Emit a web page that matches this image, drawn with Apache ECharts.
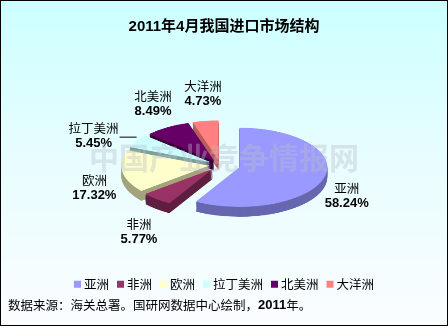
<!DOCTYPE html>
<html>
<head>
<meta charset="utf-8">
<script src="https://cdn.jsdelivr.net/npm/echarts@6/dist/echarts.min.js"></script>
<style>
html,body{margin:0;padding:0;background:#fff;}
#wrap{position:relative;width:448px;height:326px;overflow:hidden;background:linear-gradient(#ccffff 0%,#e6fdff 45%,#fbfdff 100%);}
#pie,#main{position:absolute;left:0;top:0;width:448px;height:326px;}
#pie{transform-origin:0 165px;transform:scaleY(0.45);}
#frame{position:absolute;left:0;top:0;width:448px;height:326px;box-sizing:border-box;border:1px solid #000;pointer-events:none;}
</style>
</head>
<body>
<div id="wrap"><div id="pie"></div><div id="main"></div><div id="frame"></div></div>
<script>
// ---- data ----
const categories = ['亚洲', '非洲', '欧洲', '拉丁美洲', '北美洲', '大洋洲'];
const shares = [58.24, 5.77, 17.32, 5.45, 8.49, 4.73];
const titleText = '2011年4月我国进口市场结构';
const sourceText = '数据来源：海关总署。国研网数据中心绘制，{b|2011}年。';
const watermarkText = '中国产业竞争情报网';

// ---- style ----
const topColors = ['#9999ff', '#993366', '#ffffcc', '#ccffff', '#660066', '#ff8080'];
const sideColors = ['#6767b0', '#5e1f40', '#a3a37e', '#7d9e9a', '#3a003a', '#b85c5c'];
const CX = 220, CY = 165, R = 88, K = 0.45, DEPTH = 22;
const OFF_MAIN = 20, OFF = 11;   // explode distance: largest slice / others
const AX = 129, AY = 72, LOWER = 12, LGAP = 18;
const CJK = '"Noto Sans CJK SC", sans-serif';
const LAT = '"Liberation Sans", Arial, sans-serif';

// ---- 3D-ish pie (squashed by CSS) ----
const pieChart = echarts.init(document.getElementById('pie'), null, {renderer: 'canvas'});
function pieLayer(cy, colors, mainOnly) {
  return {
    type: 'pie', center: [CX, cy], radius: R, startAngle: 90, clockwise: true,
    silent: true, animation: false, selectedMode: 'multiple',
    selectedOffset: mainOnly ? OFF_MAIN : OFF,
    label: {show: false}, labelLine: {show: false},
    data: categories.map((c, i) => {
      const visible = mainOnly ? i === 0 : i !== 0;
      return {name: c, value: shares[i], selected: true,
        itemStyle: {color: visible ? colors[i] : 'rgba(0,0,0,0)', borderWidth: 0}};
    })
  };
}
const pieSeries = [];
for (let d = DEPTH; d > 0; d -= 2) {
  pieSeries.push(pieLayer(CY + d, sideColors, true));
  pieSeries.push(pieLayer(CY + d, sideColors, false));
}
pieSeries.push(pieLayer(CY, topColors, true));
pieSeries.push(pieLayer(CY, topColors, false));
pieChart.setOption({animation: false, series: pieSeries});

// ---- label positions on the squashed ellipse ----
const total = shares.reduce((a, b) => a + b, 0);
const mctx = document.createElement('canvas').getContext('2d');
let acc = 0;
const labelPos = shares.map((v, i) => {
  const mid = (acc + v / 2) / total * 2 * Math.PI; acc += v;
  const s = Math.sin(mid), c = -Math.cos(mid);
  mctx.font = '12.5px ' + CJK; const w1 = mctx.measureText(categories[i]).width;
  mctx.font = 'bold 13px ' + LAT; const w2 = mctx.measureText(v.toFixed(2) + '%').width;
  return {i, s, c, w: Math.max(w1, w2), h: 30,
    x: CX + 2 + s * AX, y: CY + c * AY + (c > 0 ? LOWER : 0), line: null};
});
function resolve(list, side) {
  list.sort((a, b) => a.y - b.y);
  for (let j = 1; j < list.length; j++) {
    for (let q = 0; q < j; q++) {
      const a = list[q], b = list[j];
      const ox = Math.abs(a.x - b.x) < (a.w + b.w) / 2;
      const oy = Math.abs(a.y - b.y) < (a.h + b.h) / 2;
      if (ox && oy) {
        b.y = a.y + (a.h + b.h) / 2 + 2;
        const off = b.i === 0 ? OFF_MAIN : OFF;
        const sx = CX + b.s * (R + off);
        b.x = side < 0 ? sx - LGAP - b.w / 2 : sx + LGAP + b.w / 2;
        const ex = side < 0 ? b.x + b.w / 2 + 1 : b.x - b.w / 2 - 1;
        b.line = [[ex, b.y + 1], [sx, b.y + 1]];
      }
    }
  }
}
resolve(labelPos.filter(p => p.s < 0), -1);
resolve(labelPos.filter(p => p.s >= 0), 1);

// ---- main chart: title, labels, legend, notes ----
const chart = echarts.init(document.getElementById('main'), null, {renderer: 'canvas'});
chart.setOption({
  backgroundColor: 'transparent',
  animation: false,
  title: {
    text: titleText, left: 'center', top: 14,
    textStyle: {fontSize: 15, fontWeight: 'bold', color: '#000', fontFamily: LAT + ', ' + CJK}
  },
  legend: {
    left: 'center', top: 273, icon: 'rect', itemWidth: 7, itemHeight: 7, itemGap: 8,
    itemStyle: {opacity: 1},
    textStyle: {fontSize: 12.5, color: '#000', fontFamily: CJK, padding: [0, 0, 0, -2]},
    data: categories
  },
  graphic: [
    {type: 'text', left: 'center', top: 143, z: 50, silent: true,
     style: {text: watermarkText, font: 'bold 30px ' + CJK, fill: 'rgba(185,190,200,0.38)'}},
    {type: 'text', left: 8, top: 299, silent: true,
     style: {text: sourceText, font: '12.5px ' + CJK, fill: '#000',
       rich: {b: {fontWeight: 'bold', fontSize: 13, fontFamily: LAT, fill: '#000'}}}}
  ],
  series: [{
    type: 'pie', center: [CX, CY], radius: R, startAngle: 90, clockwise: true,
    silent: true, avoidLabelOverlap: false,
    itemStyle: {opacity: 0},
    label: {
      show: true, position: 'outside', opacity: 1,
      formatter: p => '{n|' + p.name + '}\n{v|' + p.value.toFixed(2) + '%}',
      rich: {
        n: {fontSize: 12.5, fontFamily: CJK, color: '#000', lineHeight: 15, align: 'center'},
        v: {fontSize: 13, fontWeight: 'bold', fontFamily: LAT, color: '#000', lineHeight: 15, align: 'center'}
      }
    },
    labelLine: {show: false, lineStyle: {color: '#000', width: 1, opacity: 1}},
    labelLayout: function (p) {
      const L = labelPos[p.dataIndex];
      const o = {x: L.x, y: L.y, align: 'center', verticalAlign: 'middle'};
      if (L.line) o.labelLinePoints = L.line;
      return o;
    },
    data: categories.map((c, i) => ({
      name: c, value: shares[i],
      itemStyle: {color: topColors[i]},
      labelLine: {show: !!labelPos[i].line}
    }))
  }]
});
</script>
</body>
</html>
